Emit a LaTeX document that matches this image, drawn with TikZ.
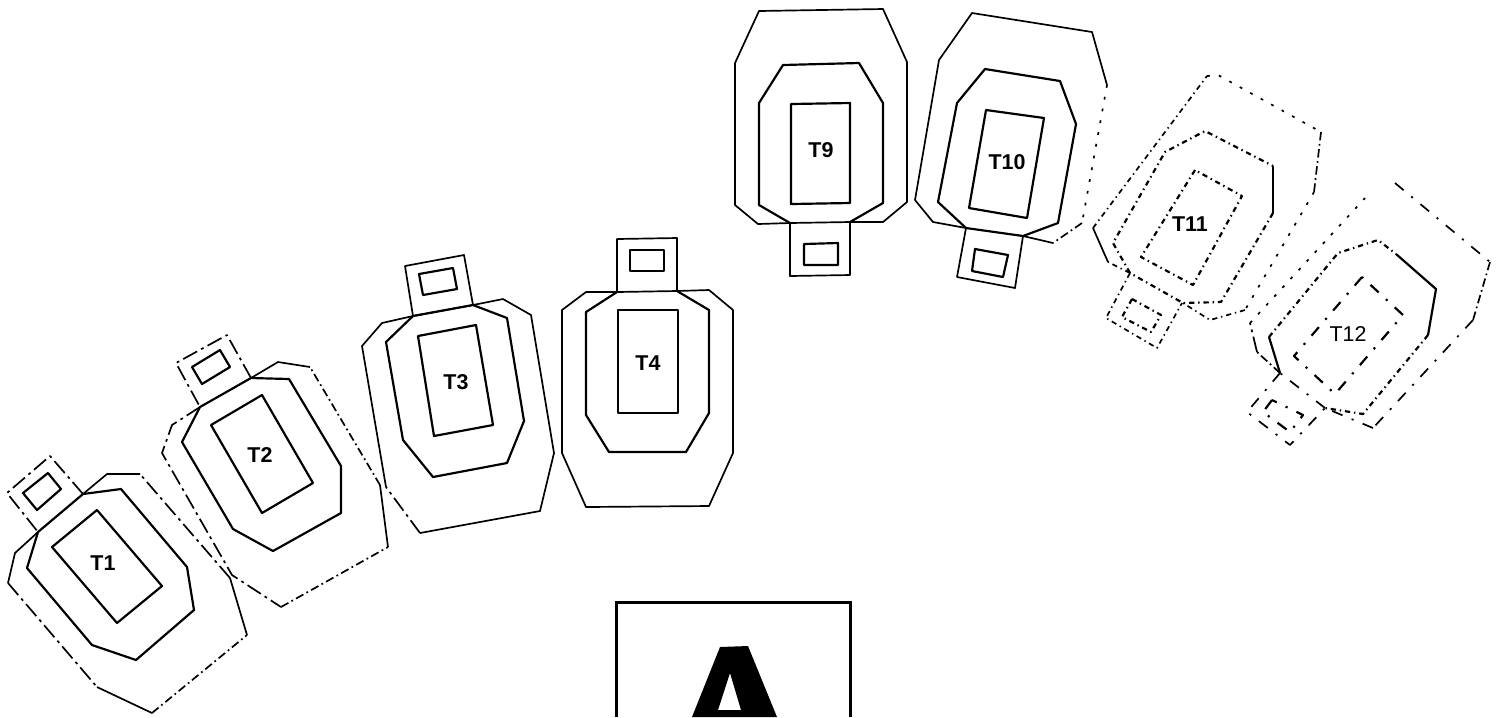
\documentclass[tikz,border=0pt]{standalone}
\usepackage{fontspec}
\setmainfont{Liberation Sans}
\usepackage{tikz}

\begin{document}
\begin{tikzpicture}[
    x=0.01cm, y=-0.01cm,
    outer/.style={line width=0.48pt, line join=round},
    inner/.style={line width=0.62pt, line join=round},
    dashlong/.style={dash pattern=on 4.5pt off 1.3pt on 0.8pt off 1.3pt},
    dashfine/.style={dash pattern=on 2.4pt off 1pt on 0.5pt off 1pt},
    dashdot/.style={dash pattern=on 1.5pt off 1.1pt on 0.4pt off 1.1pt},
    dashsparse/.style={dash pattern=on 0.8pt off 2.6pt},
    dashwide/.style={dash pattern=on 3.2pt off 2.8pt on 0.6pt off 2.8pt},
    tag/.style={inner sep=0pt, font=\fontsize{6.1}{6.5}\selectfont\bfseries},
    tagthin/.style={inner sep=0pt, font=\fontsize{6.1}{6.5}\selectfont}
]
\useasboundingbox (0,0) rectangle (1503,717);

% T1
\draw[outer] (38,532) -- (15,553) -- (8,583);
\draw[outer, dashlong] (8,583) -- (97,687);
\draw[outer] (97,687) -- (152,713);
\draw[outer, dashfine] (152,713) -- (247,635);
\draw[outer] (247,635) -- (230,578);
\draw[outer, dashlong] (230,578) -- (140,474);
\draw[outer] (140,474) -- (107,474) -- (83,494);
\draw[inner] (38,532) -- (27,568) -- (92,645) -- (136,660) -- (194,610) -- (187,567) -- (121,489) -- (83,494) -- cycle;
\draw[inner] (97,510) -- (52,547) -- (117,623) -- (162,586) -- cycle;
\draw[outer, dashlong] (83,494) -- (50,456) -- (7,493) -- (38,532);
\draw[inner] (48,473) -- (23,493) -- (37,510) -- (61,489) -- cycle;
\node[tag] (t1) at (103,563) {T1};

% T2
\draw[outer, dashlong] (200,407) -- (172,425) -- (162,453) -- (232,575) -- (281,607);
\draw[outer, dashfine] (281,607) -- (388,547);
\draw[outer] (388,547) -- (380,485);
\draw[outer, dashfine] (380,485) -- (310,367);
\draw[outer] (310,367) -- (278,362) -- (251,378);
\draw[inner] (200,407) -- (182,442) -- (233,529) -- (273,551) -- (341,513) -- (341,466) -- (289,379) -- (251,378) -- cycle;
\draw[inner] (262,395) -- (211,425) -- (262,513) -- (313,483) -- cycle;
\draw[outer, dashlong] (251,378) -- (227,335) -- (176,363) -- (200,407);
\draw[inner] (220,350) -- (192,367) -- (202,384) -- (230,367) -- cycle;
\node[tag] (t2) at (260,455) {T2};

% T3
\draw[outer] (386,487) -- (362,346) -- (382,323) -- (413,316) -- (473,305) -- (503,299) -- (531,315) -- (554,453) -- (540,511) -- (420,533);
\draw[outer, dashlong] (420,533) -- (386,487);
\draw[inner] (413,316) -- (386,342) -- (403,440) -- (433,477) -- (507,463) -- (524,421) -- (507,318) -- (473,305) -- cycle;
\draw[inner] (476,325) -- (418,336) -- (434,436) -- (493,425) -- cycle;
\draw[outer] (473,305) -- (464,255) -- (405,266) -- (413,316);
\draw[inner] (453,268) -- (419,274) -- (423,295) -- (457,289) -- cycle;
\node[tag] (t3) at (456,382) {T3};

% T4
\draw[outer] (617,292) -- (586,292) -- (562,310) -- (562,453) -- (586,507) -- (709,506) -- (733,453) -- (733,310) -- (709,290) -- (677,291) -- cycle;
\draw[inner] (617,292) -- (586,312) -- (586,415) -- (609,452) -- (686,452) -- (709,413) -- (709,310) -- (677,291);
\draw[inner] (618,310) -- (618,413) -- (678,413) -- (678,310) -- cycle;
\draw[outer] (617,292) -- (617,239) -- (677,238) -- (677,291);
\draw[inner] (630,250) -- (630,271) -- (664,271) -- (664,250) -- cycle;
\node[tag] (t4) at (648,363) {T4};

% T9
\draw[outer] (790,223) -- (758,224) -- (735,205) -- (735,63) -- (759,11) -- (883,9) -- (907,62) -- (907,202) -- (883,222) -- (850,222) -- cycle;
\draw[inner] (790,223) -- (759,205) -- (759,103) -- (783,65) -- (859,63) -- (883,103) -- (883,203) -- (850,222);
\draw[inner] (791,104) -- (791,204) -- (850,203) -- (850,103) -- cycle;
\draw[outer] (790,223) -- (790,276) -- (850,275) -- (850,222);
\draw[inner] (804,244) -- (804,265) -- (838,265) -- (838,243) -- cycle;
\node[tag] (t9) at (821,150) {T9};

% T10
\draw[outer] (966,228) -- (933,222) -- (915,200) -- (939,60) -- (972,13) -- (1092,32) -- (1107,85);
\draw[outer, dashsparse] (1107,85) -- (1082,223);
\draw[outer, dashfine] (1082,223) -- (1053,243);
\draw[outer] (1053,243) -- (1023,236);
\draw[inner] (966,228) -- (938,202) -- (957,103) -- (985,69) -- (1060,81) -- (1076,124) -- (1058,223) -- (1023,236) -- cycle;
\draw[inner] (986,110) -- (969,208) -- (1027,218) -- (1044,118) -- cycle;
\draw[outer] (966,228) -- (957,277) -- (1015,288) -- (1023,236);
\draw[inner] (975,249) -- (972,271) -- (1003,277) -- (1008,255) -- cycle;
\node[tag] (t10) at (1007,162) {T10};

% T11
\draw[outer, dashdot] (1130,273) -- (1108,262);
\draw[outer] (1108,262) -- (1093,228);
\draw[outer, dashdot] (1093,228) -- (1207,76);
\draw[outer, dashsparse] (1207,76) -- (1218,75) -- (1321,132);
\draw[outer, dashfine] (1321,132) -- (1314,192);
\draw[outer, dashsparse] (1314,192) -- (1245,310);
\draw[outer, dashdot] (1245,310) -- (1210,320) -- (1183,303);
\draw[inner, dashdot] (1130,273) -- (1113,243) -- (1165,152) -- (1205,131) -- (1273,166);
\draw[inner] (1273,166) -- (1273,213);
\draw[inner, dashdot] (1273,213) -- (1221,302) -- (1183,303) -- (1130,273);
\draw[inner, dashdot] (1195,170) -- (1141,257) -- (1193,285) -- (1242,196) -- cycle;
\draw[outer, dashdot] (1130,273) -- (1106,318) -- (1157,348) -- (1182,303);
\draw[inner, dashdot] (1132,299) -- (1122,317) -- (1151,332) -- (1161,315) -- cycle;
\node[tag] (t11) at (1190,224) {T11};

% T12
\draw[outer, dashfine] (1280,373) -- (1257,352);
\draw[outer, dashlong] (1257,352) -- (1250,323);
\draw[outer, dashsparse] (1250,323) -- (1365,198);
\draw[outer, dashwide] (1395,183) -- (1490,262);
\draw[outer, dashfine] (1490,262) -- (1473,320);
\draw[outer, dashwide] (1473,320) -- (1373,428);
\draw[outer, dashwide] (1373,428) -- (1325,408);
\draw[inner] (1280,373) -- (1269,337);
\draw[inner, dashdot] (1269,337) -- (1338,253) -- (1378,240) -- (1396,254);
\draw[inner] (1396,254) -- (1436,289) -- (1428,335);
\draw[inner, dashdot] (1428,335) -- (1363,414) -- (1325,408);
\draw[outer, dashwide] (1325,408) -- (1280,373);
\draw[inner, dashwide] (1362,277) -- (1294,356) -- (1335,394) -- (1403,315) -- cycle;
\draw[outer, dashwide] (1280,373) -- (1247,412) -- (1290,445) -- (1325,408);
\draw[inner, dashwide] (1272,400) -- (1263,412) -- (1290,432) -- (1303,415) -- cycle;
\node[tagthin] (t12) at (1348,334) {T12};

% Letter box, cut by the page
\draw[line width=0.85pt] (616,717) -- (616,602) -- (850,602) -- (850,717);
\fill[even odd rule] (692,717) -- (720,647) -- (748,646) -- (777,717) -- cycle
    (730,673) -- (718,710) -- (741,710) -- cycle;

\end{tikzpicture}
\end{document}
